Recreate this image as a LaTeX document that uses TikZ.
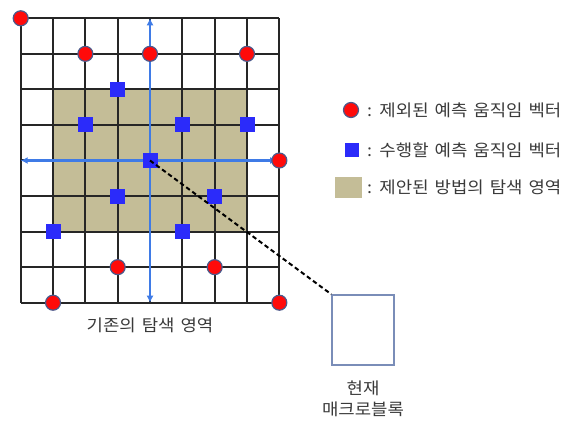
\documentclass[tikz,border=0pt]{standalone}
\usepackage{fontspec}
\setmainfont[WordSpace=1.5, FakeStretch=1.08]{Noto Sans CJK KR}
\usetikzlibrary{arrows.meta, positioning}

\definecolor{areatan}{HTML}{C4BD97}
\definecolor{mvred}{HTML}{FF0A0A}
\definecolor{mvedge}{HTML}{4A5A8C}
\definecolor{mvblue}{HTML}{2B2BFA}
\definecolor{axisblue}{HTML}{3F7BE6}
\definecolor{boxedge}{HTML}{7A8DB8}
\definecolor{txtgray}{HTML}{3A3A3A}

\tikzset{
    gridline/.style={line width=2pt, black!85},
    excl/.style={circle, fill=mvred, draw=mvedge, line width=1.2pt, minimum size=15pt, inner sep=0pt},
    cand/.style={rectangle, fill=mvblue, minimum size=15pt, inner sep=0pt},
    mvaxis/.style={line width=2.4pt, axisblue, {Latex[length=7pt,width=7pt]}-{Latex[length=7pt,width=7pt]}},
    legtext/.style={anchor=west, text=txtgray, inner sep=0pt},
}

\begin{document}
\begin{tikzpicture}[x=1pt, y=-1pt, font=\fontsize{16.5}{20.5}\selectfont]

    \useasboundingbox (0,0) rectangle (571,422);

    % --- Parámetros de la rejilla ---
    \def\cw{32.33}   % ancho de celda
    \def\ch{35.55}   % alto de celda

    % =========================================================================
    % REJILLA: área de búsqueda existente (8x8)
    % =========================================================================
    \begin{scope}[shift={(20.7,18.3)}, x=\cw pt, y=-\ch pt]

        % 1. Área de búsqueda propuesta
        \fill[areatan] (1,2) rectangle (7,6);

        % 2. Líneas de la rejilla
        \foreach \i in {0,...,8} {
            \draw[gridline] (\i,0) -- (\i,8);
            \draw[gridline] (0,\i) -- (8,\i);
        }

        % 3. Ejes de búsqueda
        \coordinate (axtop) at (4,0);
        \coordinate (axbot) at (4,8);
        \coordinate (axleft) at (0,4);
        \coordinate (axright) at (7.93,4);
        \draw[mvaxis] (axtop) -- (axbot);
        \draw[mvaxis] (axleft) -- (axright);

        % 4. Vectores excluidos
        \foreach \i/\j in {0/0, 2/1, 4/1, 7/1, 8/4, 3/7, 6/7, 1/8, 8/8}
            \node[excl] (r\i\j) at (\i,\j) {};

        % 5. Vectores a evaluar
        \foreach \i/\j in {3/2, 2/3, 5/3, 7/3, 4/4, 3/5, 6/5, 1/6, 5/6}
            \node[cand] (b\i\j) at (\i,\j) {};

        % 6. Etiqueta de la rejilla
        \node[below=12pt, text=txtgray] (oldarea) at (4,8) {기존의 탐색 영역};

    \end{scope}

    % =========================================================================
    % MACROBLOQUE ACTUAL
    % =========================================================================
    \node[draw=boxedge, line width=1.4pt, minimum width=62pt, minimum height=70pt, inner sep=0pt] (mb) at (363,330) {};
    \node[below=15pt of mb, align=center, text=txtgray, inner sep=0pt] (mblabel) {현재\\매크로블록};

    \draw[line width=2pt, dash pattern=on 4.5pt off 3pt] (b44.center) -- (mb.north west);

    % =========================================================================
    % LEYENDA
    % =========================================================================
    \node[excl] (lg1) at (351,110) {};
    \node[cand, minimum size=14pt] (lg2) at (352,150) {};
    \node[fill=areatan, minimum width=26.7pt, minimum height=21.7pt, inner sep=0pt] (lg3) at (348.3,187.5) {};

    \node[legtext] (lt1) at (367,110) {: 제외된 예측 움직임 벡터};
    \node[legtext] (lt2) at (367,150) {: 수행할 예측 움직임 벡터};
    \node[legtext] (lt3) at (367,187.5) {: 제안된 방법의 탐색 영역};

\end{tikzpicture}
\end{document}
